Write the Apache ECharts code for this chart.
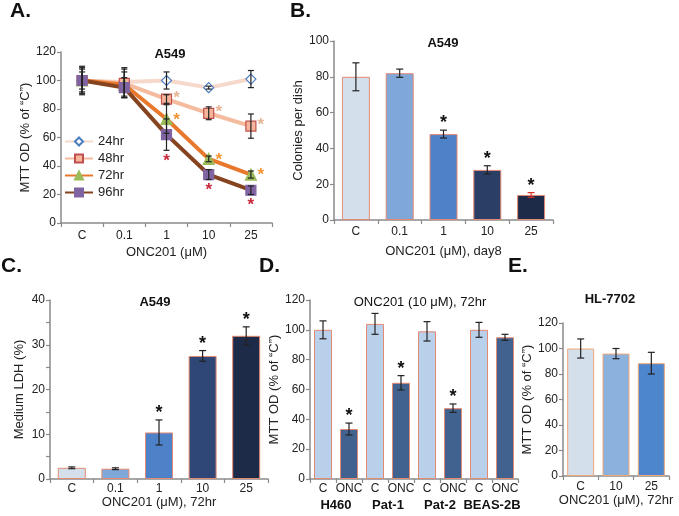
<!DOCTYPE html>
<html><head><meta charset="utf-8">
<script src="https://cdn.jsdelivr.net/npm/echarts@6/dist/echarts.min.js"></script>
<style>html,body{margin:0;padding:0;background:#fff}#c{width:679px;height:516px}</style>
</head><body><div id="c"></div>
<script>
// ---------- DATA ----------
const doseCats = ['C', '0.1', '1', '10', '25'];
// Panel A: MTT OD (% of "C"), A549
const a24 = [100, 99, 100, 95, 101];
const a24sd = [10, 10, 6, 1, 6];
const a48 = [100, 98, 87, 77, 68];
const a48sd = [9, 10, 3, 4.5, 8.5];
const a72 = [100, 97, 73, 45, 34];
const a72sd = [8, 9, 10, 2, 2.5];
const a96 = [100, 95, 62, 34, 23];
const a96sd = [6, 7, 11, 3.5, 3];
const a48sig = [0, 0, 1, 1, 1];
const a72sig = [0, 0, 1, 1, 1];
const a96sig = [0, 0, 1, 1, 1];
// Panel B: colonies per dish, day 8
const bVals = [80, 82, 48, 28, 14];
const bSd = [7.8, 2.3, 2.2, 2.3, 1.3];
const bSig = [0, 0, 1, 1, 1];
// Panel C: medium LDH (%), 72hr
const cVals = [2.5, 2.3, 10.4, 27.5, 32];
const cSd = [0.2, 0.2, 2.8, 1.2, 2];
const cSig = [0, 0, 1, 1, 1];
// Panel D: MTT OD, ONC201 10 uM, 72hr
const dGroups = ['H460', 'Pat-1', 'Pat-2', 'BEAS-2B'];
const dTreat = ['C', 'ONC'];
const dCtrl = [100, 104, 99, 100];
const dCtrlSd = [6, 7, 6.5, 5];
const dOnc = [33.5, 64.5, 47.5, 95];
const dOncSd = [4, 4.8, 2.8, 2];
const dOncSig = [1, 1, 1, 0];
// Panel E: HL-7702
const eCats = ['C', '10', '25'];
const eVals = [100, 96, 88.5];
const eSd = [7.5, 4, 8.5];

// ---------- derived ----------
const dCats = [], dVals = [], dSd = [], dSig = [];
dGroups.forEach((g, i) => {
  dCats.push(dTreat[0]); dVals.push(dCtrl[i]); dSd.push(dCtrlSd[i]); dSig.push(0);
  dCats.push(dTreat[1]); dVals.push(dOnc[i]); dSd.push(dOncSd[i]); dSig.push(dOncSig[i]);
});

const FONT = 'Liberation Sans, Arial, sans-serif';
const AX = '#8a8a8a';
const TXT = '#222';

function xCat(grid, data, name, gap, margin) {
  return {
    type: 'category', gridIndex: grid, data: data, boundaryGap: true,
    name: name || '', nameLocation: 'middle', nameGap: gap || 25,
    nameTextStyle: { fontFamily: FONT, fontSize: 13, color: TXT },
    axisLine: { lineStyle: { color: AX, width: 1.5 } },
    axisTick: { show: true, length: 4, lineStyle: { color: AX, width: 1.2 } },
    axisLabel: { fontFamily: FONT, fontSize: 12, color: TXT, margin: margin || 6, interval: 0 },
    splitLine: { show: false }
  };
}
function yVal(grid, max, interval, name, gap, minor) {
  return {
    type: 'value', gridIndex: grid, min: 0, max: max, interval: interval,
    name: name, nameLocation: 'middle', nameGap: gap, nameRotate: 90,
    nameTextStyle: { fontFamily: FONT, fontSize: 13, color: TXT },
    axisLine: { show: true, lineStyle: { color: AX, width: 1.5 } },
    axisTick: { show: true, length: 4, lineStyle: { color: AX, width: 1.2 } },
    minorTick: { show: !!minor, splitNumber: 2, length: 4, lineStyle: { color: AX, width: 1.2 } },
    axisLabel: { fontFamily: FONT, fontSize: 12, color: TXT, margin: 5 },
    splitLine: { show: false }
  };
}

function errBars(xi, yi, vals, sds, color, capW, z) {
  return {
    type: 'custom', xAxisIndex: xi, yAxisIndex: yi, z: z || 6, silent: true,
    data: vals.map((v, i) => [i, v - sds[i], v + sds[i]]),
    renderItem(params, api) {
      const lo = api.coord([api.value(0), api.value(1)]);
      const hi = api.coord([api.value(0), api.value(2)]);
      const w = capW / 2;
      const c = Array.isArray(color) ? color[params.dataIndex] : color;
      const st = { stroke: c, lineWidth: 1.2 };
      return { type: 'group', children: [
        { type: 'line', shape: { x1: lo[0], y1: lo[1], x2: hi[0], y2: hi[1] }, style: st },
        { type: 'line', shape: { x1: lo[0] - w, y1: lo[1], x2: lo[0] + w, y2: lo[1] }, style: st },
        { type: 'line', shape: { x1: hi[0] - w, y1: hi[1], x2: hi[0] + w, y2: hi[1] }, style: st }
      ] };
    }
  };
}
function stars(xi, yi, ys, flags, color, dx, dy, size) {
  const data = [];
  ys.forEach((y, i) => { if (flags[i]) data.push([i, y]); });
  return {
    type: 'custom', xAxisIndex: xi, yAxisIndex: yi, z: 8, silent: true, data: data,
    renderItem(params, api) {
      const p = api.coord([api.value(0), api.value(1)]);
      return { type: 'text', x: p[0] + dx, y: p[1] + dy,
        style: { text: '*', fill: color, font: 'bold ' + (size || 18) + 'px ' + FONT, align: 'center', verticalAlign: 'middle' } };
    }
  };
}
const plus = (a, b) => a.map((v, i) => v + b[i]);
const minus = (a, b) => a.map((v, i) => v - b[i]);

const lineDefs = [
  { name: '24hr', data: a24, line: '#f6d9cb', sym: 'diamond', size: 10, fill: '#ffffff', border: '#4a7cc0' },
  { name: '48hr', data: a48, line: '#f4bb9e', sym: 'rect', size: 10, fill: '#f7b69c', border: '#c0504d' },
  { name: '72hr', data: a72, line: '#e8782c', sym: 'triangle', size: 11, fill: '#9bbb59', border: '#9bbb59' },
  { name: '96hr', data: a96, line: '#86431f', sym: 'rect', size: 10, fill: '#8064a2', border: '#8064a2' }
];

const bColors = ['#d3dfeb', '#7fa7d7', '#4d82c8', '#2b3f66', '#1d2a48'];
const cColors = ['#d3dfeb', '#7fa7d7', '#4d82c8', '#2f4777', '#1e2b48'];
const dColors = dCats.map(c => c === 'C' ? '#b9d0ea' : '#41628f');
const eColors = ['#d3dfeb', '#8cb1dc', '#4d86cc'];

function barSeries(xi, yi, vals, colors, width, border) {
  return {
    type: 'bar', xAxisIndex: xi, yAxisIndex: yi, barWidth: width, silent: true,
    data: vals.map((v, i) => ({ value: v, itemStyle: { color: colors[i], borderColor: border, borderWidth: 1 } }))
  };
}

const series = [];
lineDefs.forEach(d => {
  series.push({
    name: d.name, type: 'line', xAxisIndex: 0, yAxisIndex: 0, data: d.data,
    symbol: d.sym, symbolSize: d.size, showAllSymbol: true,
    lineStyle: { color: d.line, width: 4 },
    itemStyle: { color: d.fill, borderColor: d.border, borderWidth: 1.2 },
    z: 3
  });
});
series.push(errBars(0, 0, a24, a24sd, '#222', 6, 4));
series.push(errBars(0, 0, a48, a48sd, '#222', 6, 4));
series.push(errBars(0, 0, a72, a72sd, '#222', 6, 4));
series.push(errBars(0, 0, a96, a96sd, '#222', 6, 4));
series.push(stars(0, 0, a48, a48sig, '#e6b496', 10, -1, 17));
series.push(stars(0, 0, a72, a72sig, '#f29434', 10, 1, 17));
series.push(stars(0, 0, minus(a96, a96sd), a96sig, '#c9283a', 0, 11, 17));

series.push(barSeries(1, 1, bVals, bColors, 28, '#e58a72'));
series.push(errBars(1, 1, bVals, bSd, ['#222', '#222', '#222', '#222', '#d9352a'], 7));
series.push(stars(1, 1, plus(bVals, bSd), bSig, '#111', 0, -7, 18));

series.push(barSeries(2, 2, cVals, cColors, 28, '#e58a72'));
series.push(errBars(2, 2, cVals, cSd, '#222', 7));
series.push(stars(2, 2, plus(cVals, cSd), cSig, '#111', 0, -7, 18));

series.push(barSeries(3, 3, dVals, dColors, 18, '#e58a72'));
series.push(errBars(3, 3, dVals, dSd, '#222', 7));
series.push(stars(3, 3, plus(dVals, dSd), dSig, '#111', 0, -7, 18));

series.push(barSeries(5, 4, eVals, eColors, 27, '#f0a878'));
series.push(errBars(5, 4, eVals, eSd, '#222', 7));

function txt(x, y, s, font, align) {
  return { type: 'text', x: x, y: y, silent: true,
    style: { text: s, font: font, fill: '#111', align: align || 'center', verticalAlign: 'middle' } };
}

const option = {
  backgroundColor: '#ffffff',
  animation: false,
  grid: [
    { left: 61, top: 52, width: 211, height: 171 },
    { left: 334, top: 41, width: 219, height: 179 },
    { left: 50, top: 300, width: 218, height: 179 },
    { left: 310, top: 300, width: 208, height: 179 },
    { left: 563, top: 323, width: 106, height: 153 }
  ],
  xAxis: [
    xCat(0, doseCats, 'ONC201 (μM)', 23, 7),
    xCat(1, doseCats, 'ONC201 (μM), day8', 25, 6),
    xCat(2, doseCats, 'ONC201 (μM), 72hr', 15, 4),
    xCat(3, dCats, '', 0, 4),
    Object.assign(xCat(3, dGroups, '', 0, 20), {
      position: 'bottom', offset: 0,
      axisLine: { show: false }, axisTick: { show: false },
      axisLabel: { fontFamily: FONT, fontSize: 13, fontWeight: 'bold', color: '#111', margin: 20, interval: 0 }
    }),
    xCat(4, eCats, 'ONC201 (μM), 72hr', 18, 5)
  ],
  yAxis: [
    yVal(0, 120, 20, 'MTT OD (% of “C”)', 25),
    yVal(1, 100, 20, 'Colonies per dish', 26),
    yVal(2, 40, 10, 'Medium LDH (%)', 24, true),
    yVal(3, 120, 20, 'MTT OD (% of “C”)', 26),
    yVal(4, 120, 20, 'MTT OD (% of “C”)', 20)
  ],
  legend: {
    data: ['24hr', '48hr', '72hr', '96hr'],
    orient: 'vertical', left: 64, top: 135, padding: 0,
    itemWidth: 28, itemHeight: 10, itemGap: 4,
    textStyle: { fontFamily: FONT, fontSize: 13, color: TXT },
    selectedMode: false
  },
  graphic: [
    txt(10, 11, 'A.', 'bold 21px ' + FONT, 'left'),
    txt(290, 11, 'B.', 'bold 21px ' + FONT, 'left'),
    txt(1, 266, 'C.', 'bold 21px ' + FONT, 'left'),
    txt(259, 266, 'D.', 'bold 21px ' + FONT, 'left'),
    txt(508, 266, 'E.', 'bold 21px ' + FONT, 'left'),
    txt(170, 54, 'A549', 'bold 13px ' + FONT),
    txt(443, 43, 'A549', 'bold 13px ' + FONT),
    txt(155, 302, 'A549', 'bold 13px ' + FONT),
    txt(420, 302, 'ONC201 (10 μM), 72hr', '13px ' + FONT),
    txt(610, 299, 'HL-7702', 'bold 13px ' + FONT)
  ],
  series: series
};
const chart = echarts.init(document.getElementById('c'));
chart.setOption(option);
</script>
</body></html>
